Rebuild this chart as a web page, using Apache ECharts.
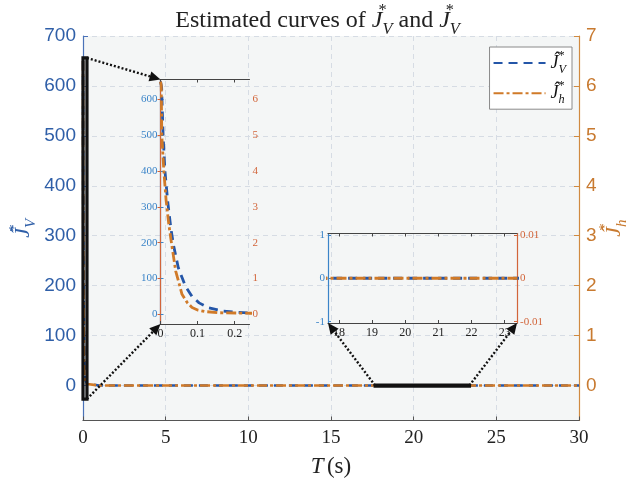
<!DOCTYPE html>
<html>
<head>
<meta charset="utf-8">
<script src="https://cdn.jsdelivr.net/npm/echarts@6/dist/echarts.min.js"></script>
<style>
  html, body { margin: 0; padding: 0; background: #ffffff; }
  #chart { width: 635px; height: 482px; }
</style>
</head>
<body>
<div id="chart"></div>
<script>
// Estimated value-function weights: fast transient near t = 0, then flat at zero
const timeV   = [0, 0.003, 0.007, 0.012, 0.02, 0.028, 0.035, 0.048, 0.067, 0.085, 0.104, 0.13, 0.168, 0.2, 0.24, 1, 30];
const valuesV = [650, 635, 500, 400, 310, 240, 194, 130, 79, 50, 32, 18, 9, 6, 4, 0, 0];
const timeH   = [0, 0.002, 0.0035, 0.009, 0.015, 0.022, 0.03, 0.041, 0.058, 0.072, 0.085, 0.1, 0.122, 0.16, 0.24, 1, 30];
const valuesH = [6.5, 6.4, 5.0, 4.0, 3.2, 2.55, 1.96, 1.21, 0.56, 0.33, 0.19, 0.12, 0.075, 0.045, 0.03, 0, 0];

// Tick labels
const mainTicksT  = [0, 5, 10, 15, 20, 25, 30];
const mainTicksV  = [0, 100, 200, 300, 400, 500, 600, 700];
const mainTicksH  = [0, 1, 2, 3, 4, 5, 6, 7];
const zoom1TicksT = [0, 0.1, 0.2];
const zoom1TicksV = [0, 100, 200, 300, 400, 500, 600];
const zoom1TicksH = [0, 1, 2, 3, 4, 5, 6];
const zoom2TicksT = [18, 19, 20, 21, 22, 23];
const zoom2TicksV = [-1, 0, 1];
const zoom2TicksH = [-0.01, 0, 0.01];

// Axis ranges of the main view and of the two magnified windows
const mainRangeT  = [0, 30];
const mainRangeV  = [-70, 700];
const mainRangeH  = [-0.7, 7];
const zoom1RangeT = [0, 0.24];
const zoom1RangeV = [-27, 656];
const zoom1RangeH = [-0.27, 6.56];
const zoom2RangeT = [17.67, 23.37];
const zoom2RangeV = [-1.03, 1.03];
const zoom2RangeH = [-0.0103, 0.0103];

const BLUE = '#2456a8', ORANGE = '#d07a28';
const BLUE_TXT = '#2f5fa8', ORANGE_TXT = '#c87a30';
const IN_BLUE = '#3a84c8', IN_ORANGE = '#d2653a';
const SERIF = 'Liberation Serif', SANS = 'Liberation Sans';

const pairsV = timeV.map((t, i) => [t, valuesV[i]]);
const pairsH = timeH.map((t, i) => [t, valuesH[i]]);

function mathRich(size, color) {
  return {
    t:   { fontFamily: SERIF, fontWeight: 'normal', fontSize: size, color: color, lineHeight: size * 1.45 },
    j:   { fontFamily: SERIF, fontWeight: 'normal', fontStyle: 'italic', fontSize: size, color: color, lineHeight: size * 1.45 },
    sup: { fontFamily: SERIF, fontWeight: 'normal', fontSize: size * 0.68, color: color, lineHeight: size * 0.6, verticalAlign: 'top', width: 0 },
    sub: { fontFamily: SERIF, fontWeight: 'normal', fontStyle: 'italic', fontSize: size * 0.68, color: color, lineHeight: size * 0.6, verticalAlign: 'bottom' }
  };
}

function insetY(range, ticks, color, labelColor, pos, grid) {
  return {
    type: 'value', gridIndex: grid, position: pos, min: range[0], max: range[1],
    axisLine: { show: true, lineStyle: { color: color, width: 1.2 } },
    axisTick: { show: true, inside: true, length: 3, customValues: ticks, lineStyle: { color: color } },
    axisLabel: { customValues: ticks, color: labelColor, fontFamily: SERIF, fontSize: 11, margin: 3 },
    splitLine: { show: false }
  };
}
function insetX(range, ticks, pos, grid, showLabel) {
  return {
    type: 'value', gridIndex: grid, position: pos, min: range[0], max: range[1],
    axisLine: { show: true, onZero: false, lineStyle: { color: '#444', width: 1.2 } },
    axisTick: { show: true, inside: true, length: 3, customValues: ticks, lineStyle: { color: '#444' } },
    axisLabel: { show: showLabel, customValues: ticks, color: '#222', fontFamily: SERIF, fontSize: 12, margin: 4 },
    splitLine: { show: false }
  };
}

const lineV = (w) => ({ color: BLUE, width: w, type: [9, 6] });
const lineH = (w) => ({ color: ORANGE, width: w, type: [10, 3, 3, 3] });

function seriesPair(xi, yl, yr, w) {
  return [
    { name: 'JV', type: 'line', xAxisIndex: xi, yAxisIndex: yl, data: pairsV, showSymbol: false, symbol: 'none',
      lineStyle: lineV(w), itemStyle: { color: BLUE }, z: 3, clip: true },
    { name: 'Jh', type: 'line', xAxisIndex: xi, yAxisIndex: yr, data: pairsH, showSymbol: false, symbol: 'none',
      lineStyle: lineH(w), itemStyle: { color: ORANGE }, z: 4, clip: true }
  ];
}

const chart = echarts.init(document.getElementById('chart'), null, { renderer: 'canvas' });

const gridBase = { containLabel: false, outerBoundsMode: 'none' };

chart.setOption({
  animation: false,
  backgroundColor: '#ffffff',
  title: {
    left: 'center', top: -2,
    text: '{t|Estimated curves of }{j|J}{sup|*}{sub|V}{t| and }{j|J}{sup|*}{sub|V}',
    textStyle: { fontWeight: 'normal', rich: mathRich(24, '#222') }
  },
  legend: {
    orient: 'vertical', right: 63, top: 47,
    data: ['JV', 'Jh'],
    backgroundColor: '#ffffff', borderColor: '#8a8a8a', borderWidth: 1, borderRadius: 0,
    padding: [3, 6, 3, 3], itemWidth: 52, itemHeight: 14, itemGap: 4,
    itemStyle: { color: 'rgba(0,0,0,0)', borderWidth: 0, opacity: 0 },
    formatter: (n) => n === 'JV' ? '{j|Ĵ}{sup|*}{sub|V}' : '{j|Ĵ}{sup|*}{sub|h}',
    textStyle: { rich: mathRich(18, '#111') }
  },
  grid: [
    Object.assign({ left: 83, right: 56, top: 36, bottom: 61.5, show: true, backgroundColor: '#f4f6f6', borderWidth: 0 }, gridBase),
    Object.assign({ left: 160.5, top: 79.5, width: 89, height: 244.5 }, gridBase),
    Object.assign({ left: 328, top: 233.5, width: 189, height: 89.5 }, gridBase)
  ],
  xAxis: [
    {
      type: 'value', gridIndex: 0, min: mainRangeT[0], max: mainRangeT[1], interval: 5,
      name: '{j|T} {t|(s)}', nameLocation: 'middle', nameGap: 30, nameMoveOverlap: false,
      nameTextStyle: { rich: mathRich(23, '#222') },
      axisLine: { show: true, onZero: false, lineStyle: { color: '#555', width: 1.2 } },
      axisTick: { show: true, inside: true, length: 4, lineStyle: { color: '#555' } },
      axisLabel: { color: '#222', fontFamily: SERIF, fontSize: 19, margin: 8 },
      splitLine: { show: true, lineStyle: { color: '#d6dce4', type: [5, 4], width: 1 } }
    },
    insetX(zoom1RangeT, zoom1TicksT, 'bottom', 1, true),
    insetX(zoom1RangeT, zoom1TicksT, 'top', 1, false),
    insetX(zoom2RangeT, zoom2TicksT, 'bottom', 2, true),
    insetX(zoom2RangeT, zoom2TicksT, 'top', 2, false)
  ],
  yAxis: [
    {
      type: 'value', gridIndex: 0, position: 'left', min: mainRangeV[0], max: mainRangeV[1],
      name: '{j|Ĵ}{sup|*}{sub|V}', nameLocation: 'middle', nameGap: 44, nameRotate: 90, nameMoveOverlap: false,
      nameTextStyle: { rich: mathRich(22, BLUE_TXT) },
      axisLine: { show: true, lineStyle: { color: '#4a72b8', width: 1.2 } },
      axisTick: { show: true, inside: true, length: 5, customValues: mainTicksV, lineStyle: { color: '#4a72b8' } },
      axisLabel: { customValues: mainTicksV, color: BLUE_TXT, fontFamily: SANS, fontSize: 19, margin: 7 },
      splitLine: { show: true, lineStyle: { color: '#d6dce4', type: [5, 4], width: 1 } }
    },
    {
      type: 'value', gridIndex: 0, position: 'right', min: mainRangeH[0], max: mainRangeH[1],
      name: '{j|Ĵ}{sup|*}{sub|h}', nameLocation: 'middle', nameGap: 19, nameRotate: 90, nameMoveOverlap: false,
      nameTextStyle: { rich: mathRich(22, ORANGE_TXT) },
      axisLine: { show: true, lineStyle: { color: '#d08a40', width: 1.2 } },
      axisTick: { show: true, inside: true, length: 5, customValues: mainTicksH, lineStyle: { color: '#d08a40' } },
      axisLabel: { customValues: mainTicksH, color: ORANGE_TXT, fontFamily: SANS, fontSize: 19, margin: 7 },
      splitLine: { show: false }
    },
    insetY(zoom1RangeV, zoom1TicksV, IN_BLUE, IN_BLUE, 'left', 1),
    insetY(zoom1RangeH, zoom1TicksH, IN_ORANGE, IN_ORANGE, 'right', 1),
    insetY(zoom2RangeV, zoom2TicksV, IN_BLUE, IN_BLUE, 'left', 2),
    insetY(zoom2RangeH, zoom2TicksH, IN_ORANGE, IN_ORANGE, 'right', 2)
  ],
  series: [
    ...seriesPair(0, 0, 1, 2.6),
    ...seriesPair(1, 2, 3, 2.8),
    ...seriesPair(3, 4, 5, 2.8)
  ]
});

// Magnification boxes and the dotted leader arrows, placed through the axes
function px(xi, yi, p) { return chart.convertToPixel({ xAxisIndex: xi, yAxisIndex: yi }, p); }

function boxShape(a, b) {
  return {
    type: 'rect', z: 20,
    shape: { x: Math.min(a[0], b[0]), y: Math.min(a[1], b[1]), width: Math.abs(b[0] - a[0]), height: Math.abs(b[1] - a[1]) },
    style: { fill: 'none', stroke: '#111', lineWidth: 3.2 }
  };
}
function arrow(from, to) {
  const dx = to[0] - from[0], dy = to[1] - from[1];
  const len = Math.hypot(dx, dy), ux = dx / len, uy = dy / len;
  const L = 11, W = 5;
  const base = [to[0] - L * ux, to[1] - L * uy];
  return [
    { type: 'line', z: 21, shape: { x1: from[0], y1: from[1], x2: base[0], y2: base[1] },
      style: { stroke: '#111', lineWidth: 2.4, lineDash: [2, 2] } },
    { type: 'polygon', z: 21,
      shape: { points: [to, [base[0] - W * uy, base[1] + W * ux], [base[0] + W * uy, base[1] - W * ux]] },
      style: { fill: '#111' } }
  ];
}

const box1a = px(0, 0, [zoom1RangeT[0], zoom1RangeV[1]]);
const box1b = px(0, 0, [zoom1RangeT[1], zoom1RangeV[0]]);
const box2a = px(0, 0, [zoom2RangeT[0], zoom2RangeV[1]]);
const box2b = px(0, 0, [zoom2RangeT[1], zoom2RangeV[0]]);
const in1TopLeft = px(1, 2, [zoom1RangeT[0], zoom1RangeV[1]]);
const in1BotLeft = px(1, 2, [zoom1RangeT[0], zoom1RangeV[0]]);
const in2BotLeft = px(3, 4, [zoom2RangeT[0], zoom2RangeV[0]]);
const in2BotRight = px(3, 4, [zoom2RangeT[1], zoom2RangeV[0]]);
const box2Left = px(0, 0, [zoom2RangeT[0], 0]);
const box2Right = px(0, 0, [zoom2RangeT[1], 0]);

chart.setOption({
  graphic: [
    boxShape(box1a, box1b),
    boxShape(box2a, box2b),
    ...arrow([box1b[0], box1a[1]], in1TopLeft),
    ...arrow([box1b[0], box1b[1]], in1BotLeft),
    ...arrow(box2Left, in2BotLeft),
    ...arrow(box2Right, in2BotRight)
  ]
});
</script>
</body>
</html>
